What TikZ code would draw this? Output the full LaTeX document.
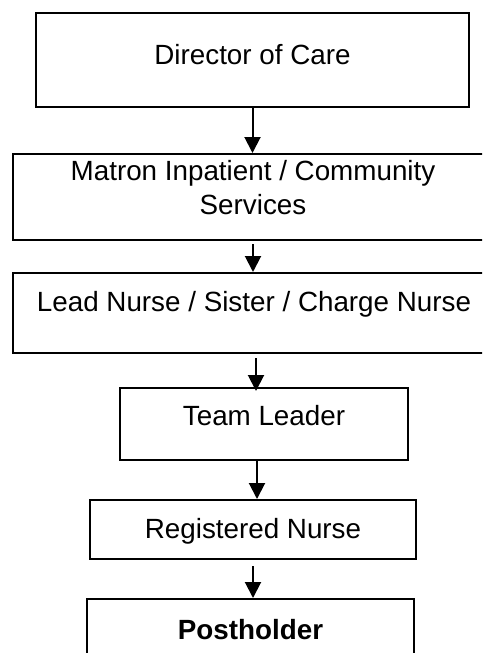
\documentclass[tikz,border=0pt]{standalone}
\usepackage{fontspec}
\setmainfont{Liberation Sans}
\usetikzlibrary{arrows.meta}
\tikzset{
	post/.style={draw, line width=1pt, inner sep=0pt, anchor=north west, align=center},
	link/.style={line width=1pt, -{Triangle[width=8pt,length=8pt]}}
}

\begin{document}
\begin{tikzpicture}[x=0.5pt, y=-0.5pt]
			\fontsize{13.9}{17}\selectfont
			\useasboundingbox (0,0) rectangle (482,653);
			\clip (0,0) rectangle (482,653);
			% the boxes, top to bottom
			\node[post, minimum width=216.5pt, minimum height=47pt, text height=10pt, text depth=6pt] (doc) at (35,12) {Director of Care};
			\node[post, minimum width=240pt, minimum height=43pt, text depth=10pt] (matron) at (12,153) {Matron Inpatient / Community\\Services};
			\node[post, minimum width=241pt, minimum height=40pt, text height=10pt, text depth=12pt] (lead) at (12,272) {Lead Nurse / Sister / Charge Nurse};
			\node[post, minimum width=144pt, minimum height=36pt, text height=10pt, text depth=9pt] (team) at (119,387) {Team Leader};
			\node[post, minimum width=163pt, minimum height=29.5pt, text height=10pt, text depth=1.5pt] (rn) at (89,499) {Registered Nurse};
			\node[post, minimum width=163.5pt, minimum height=36pt, text height=10pt, text depth=6pt] (holder) at (86,598) {\bfseries Postholder};
			% the arrows
			\draw[link] (doc.south) -- (doc.south |- matron.north);
			\draw[link] ([shift={(0,3)}]matron.south) -- (matron.south |- lead.north);
			\draw[link] ([shift={(2,4)}]lead.south) -- ([shift={(2,4)}]lead.south |- team.north);
			\draw[link] ([shift={(-7,0)}]team.south) -- ([shift={(-7,0)}]team.south |- rn.north);
			\draw[link] ([shift={(0,6)}]rn.south) -- (rn.south |- holder.north);
		\end{tikzpicture}
\end{document}
